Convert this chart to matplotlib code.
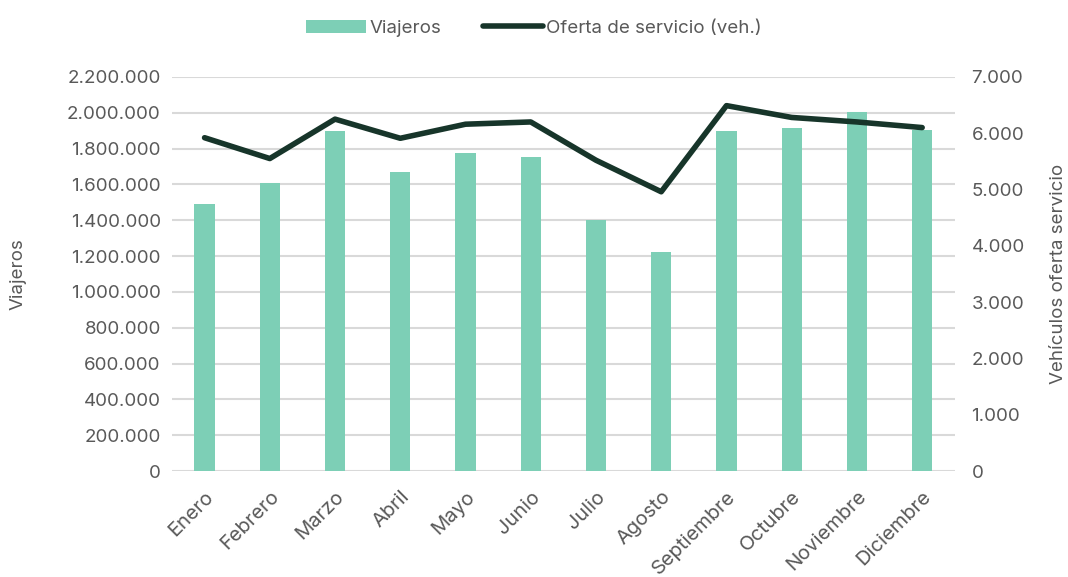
import numpy as np
import matplotlib.pyplot as plt
from matplotlib.ticker import FuncFormatter

meses = ["Enero", "Febrero", "Marzo", "Abril", "Mayo", "Junio", "Julio",
         "Agosto", "Septiembre", "Octubre", "Noviembre", "Diciembre"]
viajeros = [1490000, 1607000, 1896000, 1669000, 1775000, 1753000, 1400000,
            1222000, 1897000, 1914000, 2002000, 1905000]
oferta = [5920, 5550, 6250, 5910, 6160, 6200, 5520, 4960, 6490, 6280, 6200, 6100]

bar_color = "#7dcfb6"
line_color = "#17352a"
text_color = "#595959"

plt.rcParams['font.family'] = ['Inter', 'DejaVu Sans']
fs = 13.5

def miles(v, pos):
    return f"{int(round(v)):,}".replace(",", ".")

fig = plt.figure(figsize=(10.68, 5.77), dpi=100)
ax = fig.add_axes([0.161, 0.1837, 0.733, 0.683])
x = np.arange(len(meses))

bars = ax.bar(x, viajeros, width=0.31, color=bar_color, label="Viajeros", zorder=2)
ax.set_ylim(0, 2200000)
ax.set_yticks(np.arange(0, 2200001, 200000))
ax.yaxis.set_major_formatter(FuncFormatter(miles))
ax.set_xlim(-0.5, len(meses) - 0.5)
ax.grid(axis='y', color='#d9d9d9', lw=1.5, zorder=0)
ax.set_axisbelow(True)
for s in ax.spines.values():
    s.set_visible(False)
ax.tick_params(axis='y', length=0, labelsize=fs, colors=text_color, pad=8)
ax.tick_params(axis='x', length=0, labelsize=14.5, colors=text_color, pad=12)
ax.set_xticks(x)
ax.set_xticklabels(meses, rotation=45, ha='right', rotation_mode='anchor')
ax.set_ylabel("Viajeros", fontsize=fs, color=text_color)
ax.yaxis.set_label_coords(-0.186, 0.5)

ax2 = ax.twinx()
line, = ax2.plot(x, oferta, color=line_color, lw=4, solid_capstyle='round',
                 label="Oferta de servicio (veh.)", zorder=3)
ax2.set_ylim(0, 7000)
ax2.set_yticks(np.arange(0, 7001, 1000))
ax2.yaxis.set_major_formatter(FuncFormatter(miles))
for s in ax2.spines.values():
    s.set_visible(False)
ax2.tick_params(length=0, labelsize=fs, colors=text_color, pad=12)
ax2.set_ylabel("Vehículos oferta servicio", fontsize=fs, color=text_color)
ax2.yaxis.set_label_coords(1.121, 0.5)

fig.legend([bars, line], ["Viajeros", "Oferta de servicio (veh.)"],
           loc='upper center', bbox_to_anchor=(0.5, 0.995), ncol=2, frameon=False,
           fontsize=fs, labelcolor=text_color, handlelength=3.2, handletextpad=0.2,
           columnspacing=2.2)

fig.savefig("out.png", dpi=100)
